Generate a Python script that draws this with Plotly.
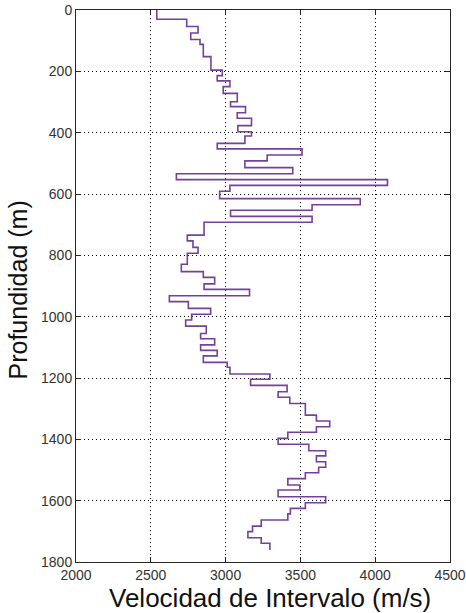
import plotly.graph_objects as go

# Layer tops (m) and interval velocities (m/s)
layer_tops = [0, 30, 54, 75, 96, 112, 152, 196, 214, 231, 250, 272, 299, 315, 335, 353, 377, 397,
              411, 435, 453, 473, 492, 514, 534, 553, 572, 591, 615, 635, 653, 673, 692,
              734, 753, 774, 793, 829, 853, 872, 893, 911, 932, 951, 973, 992,
              1011, 1031, 1055, 1072, 1092, 1110, 1128, 1149, 1165, 1187, 1204, 1224,
              1245, 1263, 1283, 1321, 1340, 1359, 1377, 1397, 1416, 1437, 1454, 1473, 1491,
              1509, 1528, 1549, 1565, 1587, 1607, 1625, 1643, 1663, 1683, 1701, 1721, 1739]
velocities = [2540, 2740, 2816, 2767, 2829, 2851, 2902, 2978, 2944, 3029, 2984, 3078, 3033, 3133, 3078, 3173, 3082, 3173,
              3129, 2944, 3511, 3278, 3129, 3449, 2671, 4082, 3029, 2960, 3900, 3578, 3033, 3578, 2856,
              2744, 2782, 2816, 2744, 2704, 2851, 2927, 2856, 3160, 2624, 2751, 2900, 2773,
              2733, 2871, 2833, 2927, 2833, 2944, 2851, 3011, 3029, 3296, 3167, 3411,
              3351, 3429, 3533, 3607, 3696, 3607, 3416, 3351, 3556, 3669, 3607, 3669, 3622,
              3533, 3416, 3496, 3351, 3669, 3533, 3433, 3416, 3238, 3180, 3149, 3238, 3296]
bottom_depth = 1761

x_ticks = [2000, 2500, 3000, 3500, 4000, 4500]
y_ticks = [0, 200, 400, 600, 800, 1000, 1200, 1400, 1600, 1800]

xs = velocities + [velocities[-1]]
ys = layer_tops + [bottom_depth]

fig = go.Figure()
fig.add_trace(go.Scatter(
    x=xs, y=ys, mode="lines", line_shape="vh",
    line=dict(color="#74419a", width=1.6),
    showlegend=False, hoverinfo="skip",
))

tick_font = dict(family="Liberation Sans, Arial, sans-serif", size=14, color="#333333")
title_font = dict(family="Liberation Sans, Arial, sans-serif", size=26, color="#111111")
ytitle_font = dict(family="Liberation Sans, Arial, sans-serif", size=25, color="#111111")
common = dict(
    showline=True, linecolor="#262626", linewidth=1, mirror="ticks",
    ticks="inside", ticklen=5, tickcolor="#262626", tickwidth=1,
    showgrid=True, gridcolor="#000000", gridwidth=1, griddash="1px,3px",
    zeroline=False, tickfont=tick_font, automargin=False,
)

fig.update_xaxes(range=[2000, 4500], tickvals=x_ticks,
                 ticktext=[str(v) for v in x_ticks], **common)
fig.update_yaxes(range=[1800, 0], tickvals=y_ticks,
                 ticktext=[str(v) for v in y_ticks], **common)

fig.add_annotation(text="Velocidad de Intervalo (m/s)", xref="paper", yref="paper",
                   x=0.52, y=-0.066, xanchor="center", yanchor="middle",
                   showarrow=False, font=title_font)
fig.add_annotation(text="Profundidad (m)", xref="paper", yref="paper",
                   x=-0.156, y=0.493, xanchor="center", yanchor="middle",
                   textangle=-90, showarrow=False, font=ytitle_font, borderpad=0)

fig.update_layout(
    width=466, height=613,
    margin=dict(l=76, r=16, t=10, b=51, autoexpand=False),
    paper_bgcolor="white", plot_bgcolor="white",
)

fig.write_html("out.html")
